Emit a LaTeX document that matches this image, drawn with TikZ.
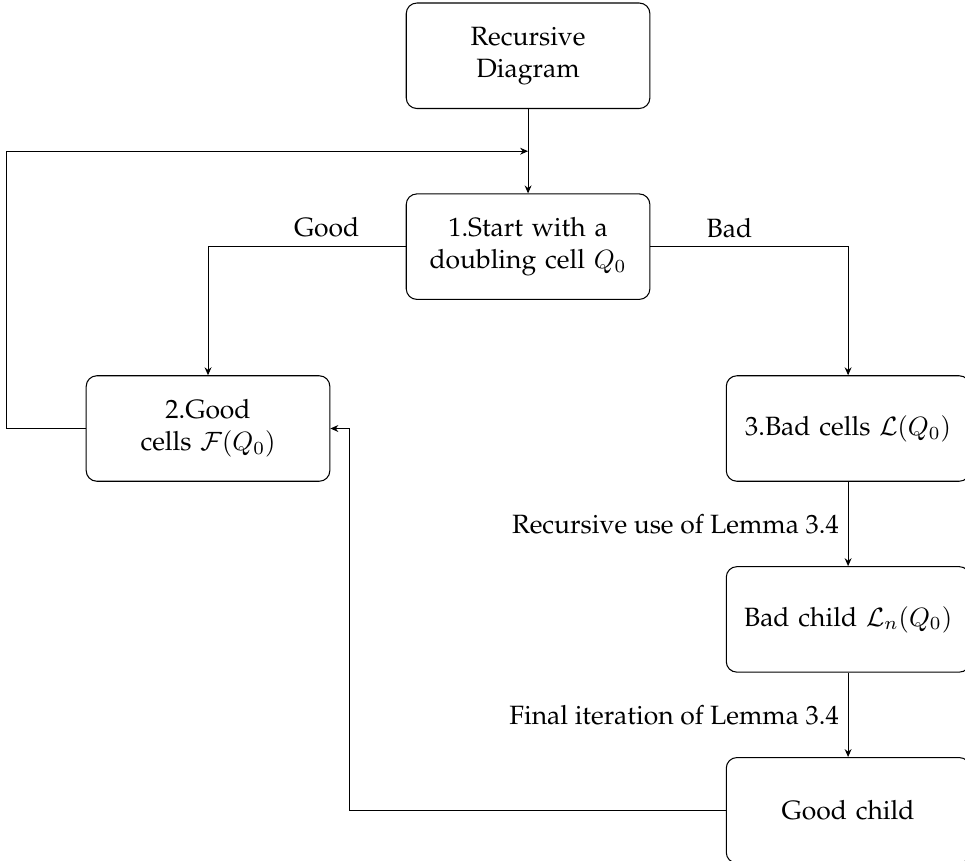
\documentclass[tikz,border=0pt]{standalone}
\usepackage[T1]{fontenc}
\usepackage{palatino}
\usetikzlibrary{arrows.meta,positioning,calc}

\begin{document}
\begin{tikzpicture}[
  node distance=1.12cm,
  box/.style={rectangle, draw, rounded corners, text width=3cm, align=center, minimum height=1.4cm},
  arr/.style={-{Stealth[length=3pt, width=2.6pt]}}
]
  \useasboundingbox (-7.01,0.74) rectangle (5.80,-10.68);
  \clip (-7.01,0.74) rectangle (5.80,-10.68);

  \node[box] (rec) {Recursive\\Diagram};
  \node[box, below=of rec] (start) {1.Start with a doubling cell $Q_0$};
  \node[box, below left=1cm and 1cm of start] (good) {2.Good\\cells $\mathcal{F}(Q_0)$};
  \node[box, below right=1cm and 1cm of start] (bad) {3.Bad cells $\mathcal{L}(Q_0)$};
  \node[box, below=of bad] (badchild) {Bad child $\mathcal{L}_n(Q_0)$};
  \node[box, below=of badchild] (goodchild) {Good child};
  \coordinate (loop) at ($(rec.south)!0.5!(start.north)$);

  \draw[arr] (rec) -- (start);
  \draw[arr] (start.west) -| node[above, pos=0.2] {Good} (good.north);
  \draw[arr] (start.east) -| node[above, pos=0.2] {Bad} (bad.north);
  \draw[arr] (good.west) -- ++(-1.05,0) |- (loop);
  \draw[arr] (bad) -- node[left] {Recursive use of Lemma 3.4} (badchild);
  \draw[arr] (badchild) -- node[left] {Final iteration of Lemma 3.4} (goodchild);
  \draw[arr] (goodchild.west) -| ([xshift=0.25cm]good.east) -- (good.east);
\end{tikzpicture}
\end{document}
